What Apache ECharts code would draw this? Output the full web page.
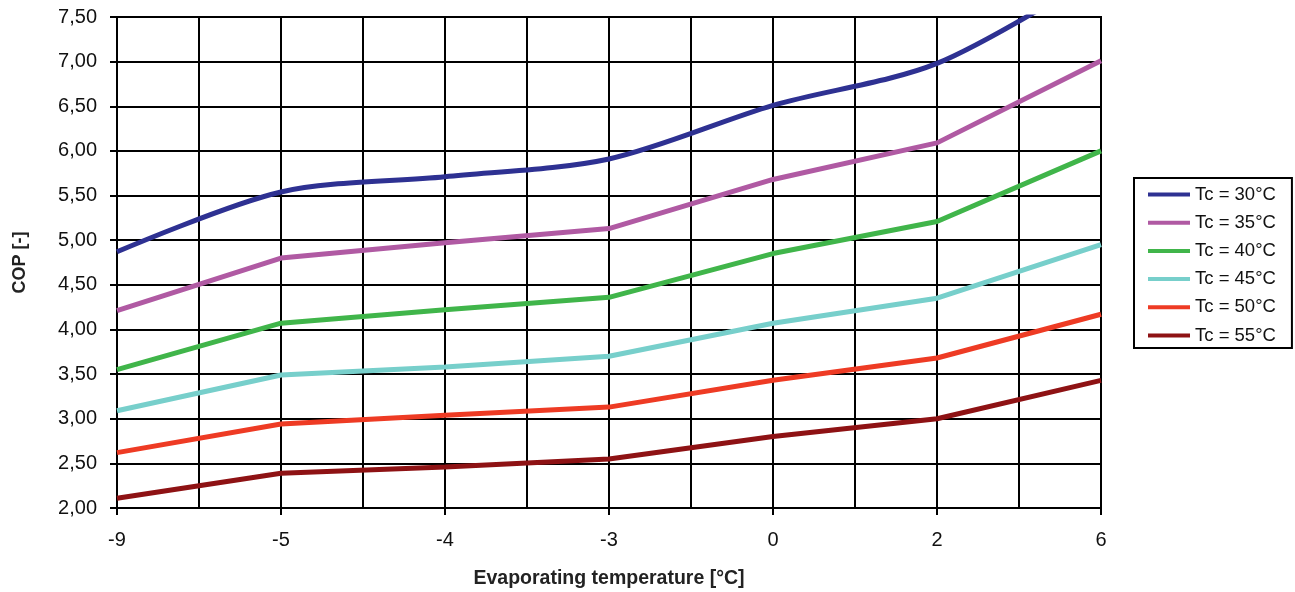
<!DOCTYPE html>
<html>
<head>
<meta charset="utf-8">
<script src="https://cdn.jsdelivr.net/npm/echarts@6/dist/echarts.min.js"></script>
<style>
  html, body { margin: 0; padding: 0; background: #fff; }
  #chart { width: 1295px; height: 592px; }
</style>
</head>
<body>
<div id="chart"></div>
<script>
// Evaporating temperature tick labels (one per data column)
const tempLabels = ['-9', '-5', '-4', '-3', '0', '2', '6'];

// COP per condensing temperature
const cop30 = [4.87, 5.54, 5.71, 5.91, 6.51, 6.98, 8.00];
const cop35 = [4.21, 4.80, 4.97, 5.13, 5.68, 6.09, 7.01];
const cop40 = [3.55, 4.07, 4.22, 4.36, 4.85, 5.21, 6.00];
const cop45 = [3.09, 3.49, 3.58, 3.70, 4.07, 4.35, 4.95];
const cop50 = [2.62, 2.94, 3.04, 3.13, 3.43, 3.68, 4.17];
const cop55 = [2.11, 2.39, 2.46, 2.55, 2.80, 3.00, 3.43];

const seriesNames = ['Tc = 30°C', 'Tc = 35°C', 'Tc = 40°C', 'Tc = 45°C', 'Tc = 50°C', 'Tc = 55°C'];
const seriesColors = ['#2E3192', '#B05AA3', '#40B54A', '#77CFCB', '#EE3B24', '#8E1214'];
const seriesSmooth = [0.3, 0, 0, 0, 0, 0];
const seriesValues = [cop30, cop35, cop40, cop45, cop50, cop55];

// Category slots: labelled columns with an unlabelled gridline between each pair
const categories = [];
tempLabels.forEach((t, i) => {
  categories.push(t);
  if (i < tempLabels.length - 1) categories.push('');
});

const chart = echarts.init(document.getElementById('chart'), null, { renderer: 'canvas' });

const font = '"Liberation Sans", Arial, sans-serif';

chart.setOption({
  animation: false,
  backgroundColor: '#ffffff',
  grid: { left: 117, right: 194, top: 17, bottom: 84, containLabel: false, outerBoundsMode: 'none' },
  legend: {
    orient: 'vertical',
    left: 1134,
    top: 178,
    padding: [7, 16, 3, 14],
    borderColor: '#000',
    borderWidth: 2,
    icon: 'rect',
    itemWidth: 42,
    itemHeight: 4,
    itemGap: 9.2,
    textStyle: { fontFamily: font, fontSize: 18.5, color: '#111', lineHeight: 18 },
    data: seriesNames
  },
  xAxis: {
    type: 'category',
    data: categories,
    boundaryGap: false,
    name: 'Evaporating temperature [°C]',
    nameLocation: 'middle',
    nameGap: 61,
    nameTextStyle: { fontFamily: font, fontSize: 19.5, fontWeight: 'bold', color: '#222' },
    axisLine: { lineStyle: { color: '#000', width: 2 } },
    axisTick: { show: true, interval: 1, length: 7, lineStyle: { color: '#000', width: 2 } },
    axisLabel: { interval: 1, margin: 22, fontFamily: font, fontSize: 20, color: '#111' },
    splitLine: { show: true, interval: 0, lineStyle: { color: '#000', width: 2 } }
  },
  yAxis: {
    type: 'value',
    min: 2,
    max: 7.5,
    interval: 0.5,
    name: 'COP [-]',
    nameLocation: 'middle',
    nameRotate: 90,
    nameGap: 88,
    nameTextStyle: { fontFamily: font, fontSize: 18, fontWeight: 'bold', color: '#222' },
    axisLine: { show: true, lineStyle: { color: '#000', width: 2 } },
    axisTick: { show: true, length: 7, lineStyle: { color: '#000', width: 2 } },
    axisLabel: {
      margin: 20,
      fontFamily: font,
      fontSize: 20,
      color: '#111',
      formatter: v => v.toFixed(2).replace('.', ',')
    },
    splitLine: { show: true, lineStyle: { color: '#000', width: 2 } }
  },
  series: seriesValues.map((vals, k) => ({
    name: seriesNames[k],
    type: 'line',
    data: vals.map((v, i) => [i * 2, v]),
    smooth: seriesSmooth[k],
    symbol: 'none',
    clip: true,
    color: seriesColors[k],
    lineStyle: { width: 5, color: seriesColors[k] },
    z: 10 - k
  }))
});

// Right and top frame of the plot area
const rect = chart.getModel().getComponent('grid').coordinateSystem.getRect();
chart.setOption({
  graphic: [{
    type: 'rect',
    shape: { x: rect.x, y: rect.y, width: rect.width, height: rect.height },
    style: { fill: 'none', stroke: '#000', lineWidth: 2 },
    silent: true,
    z: 1
  }]
});
</script>
</body>
</html>
